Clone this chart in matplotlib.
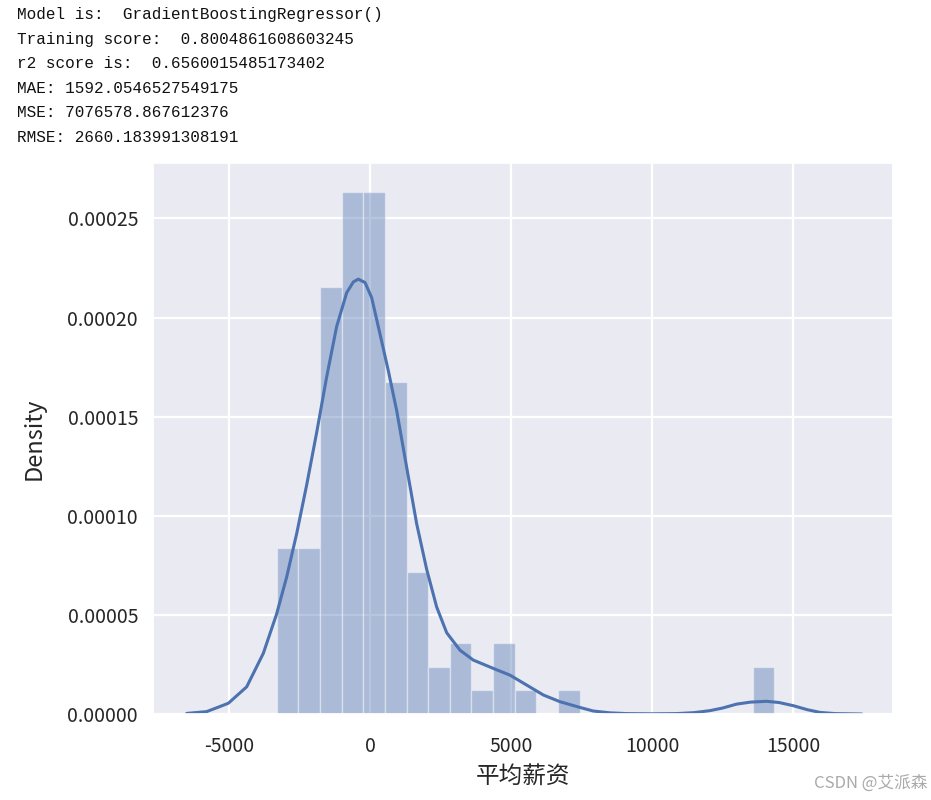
import numpy as np
import matplotlib
matplotlib.use("Agg")
import matplotlib.pyplot as plt
import seaborn as sns

# printed notebook output above the plot
report_lines = [
    "Model is:  GradientBoostingRegressor()",
    "Training score:  0.8004861608603245",
    "r2 score is:  0.6560015485173402",
    "MAE: 1592.0546527549175",
    "MSE: 7076578.867612376",
    "RMSE: 2660.183991308191",
]

# histogram of residuals (counts per bin)
bin_start = -3305
bin_width = 767
bin_counts = [7, 7, 18, 22, 22, 14, 6, 2, 3, 1, 3, 1, 0, 1,
              0, 0, 0, 0, 0, 0, 0, 0, 2]

# kde curve
kde_x = [-6500, -5792, -5024, -4373, -3783, -3310, -2955, -2600, -2246,
         -1891, -1537, -1182, -828, -591, -414, -177, 59, 355, 650, 946,
         1300, 1655, 2010, 2364, 2720, 3191, 3664, 4373, 4965, 5556, 6146,
         6738, 7447, 7918, 8500, 9103, 10000, 10876, 11500, 12057, 12500,
         13004, 13500, 14067, 14500, 15011, 15500, 15957, 16500, 17436]
kde_y = [0.3e-6, 1.2e-6, 5.4e-6, 1.37e-5, 3.06e-5, 5.05e-5, 6.91e-5, 9.1e-5, 1.155e-4,
         1.42e-4, 1.70e-4, 1.955e-4, 2.125e-4, 2.18e-4, 2.194e-4, 2.177e-4, 2.101e-4, 1.917e-4, 1.732e-4, 1.531e-4,
         1.245e-4, 9.6e-5, 7.3e-5, 5.40e-5, 4.1e-5, 3.22e-5, 2.72e-5, 2.30e-5, 1.96e-5, 1.46e-5, 9.6e-6,
         6.2e-6, 3.3e-6, 1.5e-6, 0.6e-6, 0.2e-6, 0.1e-6, 0.2e-6, 0.7e-6, 1.7e-6, 3.0e-6,
         5.0e-6, 6.0e-6, 6.4e-6, 5.8e-6, 4.2e-6, 2.2e-6, 0.8e-6, 0.2e-6, 0.0]

xticks = [-5000, 0, 5000, 10000, 15000]
yticks = [0.0, 0.00005, 0.00010, 0.00015, 0.00020, 0.00025]

sns.set_theme(style="darkgrid")
plt.rcParams["font.family"] = ["Noto Sans CJK SC", "DejaVu Sans"]
plt.rcParams["axes.unicode_minus"] = False

fig = plt.figure(figsize=(9.31, 8.0), dpi=100)
fig.patch.set_facecolor("white")

for i, line in enumerate(report_lines):
    fig.text(17 / 931, 1 - (15 + i * 24.4) / 800, line, family="Liberation Mono",
             fontsize=11.5, color="#111111", va="center", ha="left")

ax = fig.add_axes([153.3 / 931, 1 - 714 / 800, 740 / 931, 551 / 800])

counts = np.array(bin_counts, dtype=float)
density = counts / (counts.sum() * bin_width)
lefts = bin_start + bin_width * np.arange(len(counts))
keep = counts > 0
ax.bar(lefts[keep], density[keep], width=bin_width, align="edge",
       color="#4c72b0", alpha=0.4, edgecolor="white", linewidth=1)

ax.plot(kde_x, kde_y, color="#4c72b0", lw=2.2, solid_capstyle="round",
        solid_joinstyle="round")

ax.set_xlim(-7684, 18557)
ax.set_ylim(0, 0.000278)
ax.set_xticks(xticks)
ax.set_yticks(yticks)
ax.set_yticklabels(["%.5f" % v for v in yticks])
ax.grid(True, color="white", lw=1.6)
ax.tick_params(axis="both", labelsize=14, colors="#262626", length=0)
ax.tick_params(axis="x", pad=16)
ax.tick_params(axis="y", pad=11)
ax.set_xlabel("平均薪资", fontsize=17, color="#262626", labelpad=6)
ax.set_ylabel("Density", fontsize=17, color="#262626", labelpad=16)

fig.text(927 / 931, 1 - 783 / 800, "CSDN @艾派森", fontsize=12, color="#aaaaaa",
         ha="right", va="center")

fig.savefig("out.png", dpi=100)
